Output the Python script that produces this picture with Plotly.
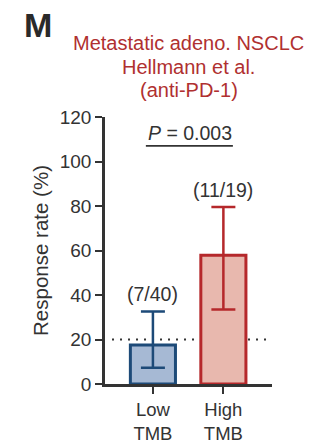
import plotly.graph_objects as go

categories = ["Low<br>TMB", "High<br>TMB"]
rates = [17.5, 57.9]
ci_upper = [32.6, 79.6]
ci_lower = [7.3, 33.5]
count_labels = ["(7/40)", "(11/19)"]
edge_colors = ["#1d4a78", "#b5282b"]
fill_colors = ["#a6b9d4", "#e8b8ae"]
threshold = 20
p_text = "<i>P</i> = 0.003"
title_lines = ["Metastatic adeno. NSCLC", "Hellmann et al.", "(anti-PD-1)"]

xs = list(range(len(categories)))
err_plus = [u - r for u, r in zip(ci_upper, rates)]
err_minus = [r - l for r, l in zip(rates, ci_lower)]

FONT = "Liberation Sans, Arial, Helvetica, sans-serif"
AX = "#333333"

fig = go.Figure()
for i in xs:
    fig.add_trace(go.Bar(
        x=[i], y=[rates[i]], width=0.64,
        marker=dict(color=fill_colors[i], line=dict(color=edge_colors[i], width=3)),
        error_y=dict(type="data", array=[err_plus[i]], arrayminus=[err_minus[i]],
                     color=edge_colors[i], thickness=2.5, width=12, visible=True),
        showlegend=False,
    ))
    fig.add_annotation(x=i, y=ci_upper[i], text=count_labels[i], showarrow=False,
                       yanchor="bottom", yshift=4, font=dict(size=19.5, color=AX, family=FONT))

fig.add_shape(type="line", xref="paper", x0=0.042, x1=0.965, y0=threshold, y1=threshold,
              line=dict(color=AX, width=2, dash="2px,6px"), layer="below")

fig.add_annotation(x=0.52, y=113, text=p_text, showarrow=False,
                   font=dict(size=19.5, color=AX, family=FONT))
fig.add_shape(type="line", x0=-0.1, x1=1.135, y0=107, y1=107,
              line=dict(color=AX, width=1.6))

fig.add_annotation(xref="paper", yref="paper", x=-0.40, y=1.345, text="<b>M</b>",
                   showarrow=False, xanchor="center", yanchor="middle",
                   font=dict(size=34, color="#2a2a2a", family=FONT))
for k, line in enumerate(title_lines):
    fig.add_annotation(xref="paper", yref="paper", x=0.5, y=(384 - 43 - 23.5 * k) / 267,
                       text=line, showarrow=False, xanchor="center", yanchor="middle",
                       font=dict(size=20, color="#b03030", family=FONT))

fig.update_layout(
    width=336, height=443,
    margin=dict(l=105, r=64, t=117, b=59, autoexpand=False),
    paper_bgcolor="white", plot_bgcolor="white",
    font=dict(family=FONT, color=AX),
    xaxis=dict(range=[-0.68, 1.69], tickvals=xs, ticktext=categories, automargin=False,
               showline=True, linecolor=AX, linewidth=2.5, ticks="outside",
               ticklen=7, tickwidth=2, tickcolor=AX, showgrid=False, zeroline=False,
               tickfont=dict(size=18.5, color=AX)),
    yaxis=dict(range=[0, 120], tickvals=[0, 20, 40, 60, 80, 100, 120], automargin=False,
               showline=True, linecolor=AX, linewidth=2.5, ticks="outside",
               ticklen=7, tickwidth=2, tickcolor=AX, showgrid=False, zeroline=False,
               tickfont=dict(size=19, color=AX),
               title=dict(text="Response rate (%)", font=dict(size=20.5, color=AX), standoff=6)),
)

fig.write_html("out.html")
